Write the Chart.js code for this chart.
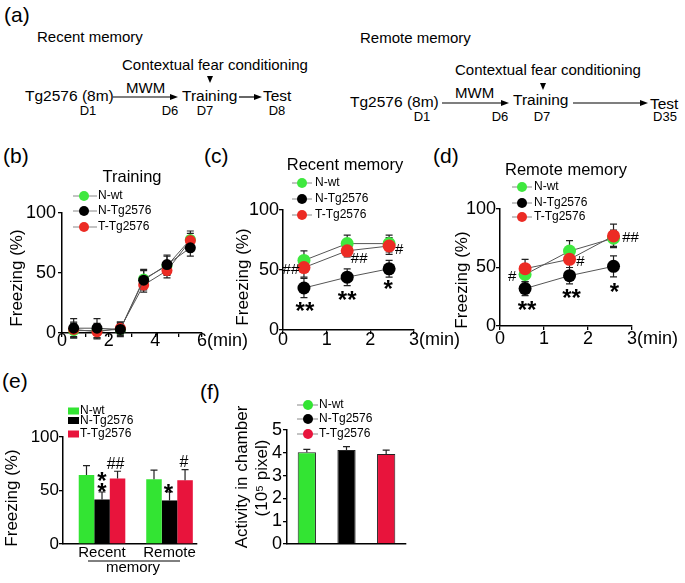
<!DOCTYPE html>
<html>
<head>
<meta charset="utf-8">
<script src="https://cdn.jsdelivr.net/npm/chart.js@4.4.1/dist/chart.umd.min.js"></script>
<style>
  body { margin: 0; background: #fff; }
  #page { position: relative; width: 685px; height: 583px; overflow: hidden; background: #fff;
          font-family: Arial, "Liberation Sans", sans-serif; color: #000; }
  .t { position: absolute; white-space: nowrap; line-height: 1; }
  .c { transform: translateX(-50%); }
  canvas { position: absolute; }
  svg { position: absolute; left: 0; top: 0; }
</style>
</head>
<body>
<div id="page">
  <!-- (a) protocol -->
  <svg width="685" height="130">
    <g stroke="#000" stroke-width="1.2">
      <line x1="113" y1="97" x2="172" y2="97"/>
      <line x1="239" y1="97" x2="256" y2="97"/>
      <line x1="442" y1="103" x2="503" y2="103"/>
      <line x1="573" y1="103" x2="642" y2="103"/>
    </g>
    <g fill="#000">
      <polygon points="170,94 178,97 170,100"/>
      <polygon points="254,94 262,97 254,100"/>
      <polygon points="501,100 509,103 501,106"/>
      <polygon points="640,100 648,103 640,106"/>
      <polygon points="207,76 213,76 210,83"/>
      <polygon points="540,83 546,83 543,90"/>
    </g>
  </svg>
  <div class="t" style="left:4px;top:4px;font-size:21px">(a)</div>
  <div class="t" style="left:37px;top:29px;font-size:15px">Recent memory</div>
  <div class="t" style="left:122px;top:57px;font-size:15px">Contextual fear conditioning</div>
  <div class="t" style="left:25px;top:88px;font-size:15.5px">Tg2576 (8m)</div>
  <div class="t" style="left:126px;top:80px;font-size:15px">MWM</div>
  <div class="t" style="left:182px;top:88px;font-size:15.5px">Training</div>
  <div class="t" style="left:263px;top:88px;font-size:15.5px">Test</div>
  <div class="t c" style="left:88px;top:104px;font-size:13px">D1</div>
  <div class="t c" style="left:170px;top:104px;font-size:13px">D6</div>
  <div class="t c" style="left:205px;top:104px;font-size:13px">D7</div>
  <div class="t c" style="left:277px;top:104px;font-size:13px">D8</div>

  <div class="t" style="left:360px;top:30px;font-size:15px">Remote memory</div>
  <div class="t" style="left:455px;top:62px;font-size:15px">Contextual fear conditioning</div>
  <div class="t" style="left:350px;top:94px;font-size:15.5px">Tg2576 (8m)</div>
  <div class="t" style="left:455px;top:85px;font-size:15px">MWM</div>
  <div class="t" style="left:513px;top:92px;font-size:15.5px">Training</div>
  <div class="t" style="left:650px;top:96px;font-size:15.5px">Test</div>
  <div class="t c" style="left:422px;top:110px;font-size:13px">D1</div>
  <div class="t c" style="left:500px;top:110px;font-size:13px">D6</div>
  <div class="t c" style="left:542px;top:110px;font-size:13px">D7</div>
  <div class="t c" style="left:665px;top:110px;font-size:13px">D35</div>

  <div class="t" style="left:3px;top:145px;font-size:21px">(b)</div>
  <div class="t" style="left:204px;top:145px;font-size:21px">(c)</div>
  <div class="t" style="left:433px;top:145px;font-size:21px">(d)</div>
  <div class="t" style="left:2px;top:370px;font-size:21px">(e)</div>
  <div class="t" style="left:200px;top:381px;font-size:21px">(f)</div>

  <canvas id="chartB" width="255" height="220" style="left:0;top:140px"></canvas>
  <canvas id="chartC" width="250" height="220" style="left:215px;top:140px"></canvas>
  <canvas id="chartD" width="240" height="220" style="left:445px;top:140px"></canvas>
  <canvas id="chartE" width="215" height="203" style="left:0;top:380px"></canvas>
  <canvas id="chartF" width="200" height="203" style="left:215px;top:380px"></canvas>
</div>

<script>
// series
const seriesNames = ['N-wt', 'N-Tg2576', 'T-Tg2576'];
const seriesColors = ['#3fe83f', '#000000', '#ec2b24'];
const barColors = ['#33e433', '#000000', '#e8143c'];

// tick labels
const freezeTicks = [0, 50, 100];
const trainTicks = [0, 1, 2, 3, 4, 5, 6];
const trainTickLabels = ['0', '', '2', '', '4', '', '6'];
const minTicks = [0, 1, 2, 3];
const minTickLabels = ['0', '1', '2', '3'];
const activityTicks = [0, 1, 2, 3, 4, 5];

// (b) training
const trainTime = [0.5, 1.5, 2.5, 3.5, 4.5, 5.5];
const trainWt = [2, 2, 3, 45, 56, 78];
const trainWtErr = [6, 6, 5, 8, 8, 7];
const trainTg = [4, 4, 3, 44, 57, 71];
const trainTgErr = [8, 8, 6, 8, 8, 7];
const trainT = [3, 1, 4, 40, 52, 77];
const trainTErr = [6, 6, 5, 6, 6, 6];

// (c) recent memory
const recentTime = [0.48, 1.47, 2.43];
const recentWt = [58, 72, 72];
const recentWtErr = [8, 7, 7];
const recentTg = [35, 44, 51];
const recentTgErr = [8, 7, 7];
const recentT = [52, 66, 70];
const recentTErr = [8, 5, 7];
const recentStars = ['**', '**', '*'];
const recentHash = ['##', '##', '#'];

// (d) remote memory
const remoteTime = [0.57, 1.58, 2.58];
const remoteWt = [44, 64, 75];
const remoteWtErr = [6, 9, 7];
const remoteTg = [32, 43, 51];
const remoteTgErr = [6, 7, 9];
const remoteT = [49, 57, 77];
const remoteTErr = [8, 7, 10];
const remoteStars = ['**', '**', '*'];
const remoteHash = ['#', '#', '##'];

// (e) freezing by memory type
const memoryGroups = ['Recent', 'Remote'];
const memWt = [64.6, 60.6];
const memWtErr = [8.7, 8.4];
const memTg = [41.6, 40.7];
const memTgErr = [7, 8];
const memT = [61.2, 59.6];
const memTErr = [6.8, 10];
const memTgStars = ['*\n*', '*'];
const memTHash = ['##', '#'];

// (f) activity in chamber
const activity = [4.02, 4.12, 3.95];
const activityErr = [0.13, 0.15, 0.17];

const FONT = 'Arial, "Liberation Sans", sans-serif';
const TICK_SIZE = 18;
Chart.defaults.font.family = FONT;
Chart.defaults.color = '#000';

function drawErrors(chart, both) {
  const ctx = chart.ctx, ys = chart.scales.y;
  ctx.save();
  ctx.strokeStyle = '#222';
  ctx.lineWidth = 1.2;
  chart.data.datasets.forEach((ds, di) => {
    if (!ds.errors) return;
    chart.getDatasetMeta(di).data.forEach((el, i) => {
      const raw = ds.data[i];
      const v = typeof raw === 'number' ? raw : raw.y;
      const top = ys.getPixelForValue(v + ds.errors[i]);
      const bot = both ? ys.getPixelForValue(v - ds.errors[i]) : el.y;
      const w = 3.5;
      ctx.beginPath();
      ctx.moveTo(el.x, top); ctx.lineTo(el.x, bot);
      ctx.moveTo(el.x - w, top); ctx.lineTo(el.x + w, top);
      if (both) { ctx.moveTo(el.x - w, bot); ctx.lineTo(el.x + w, bot); }
      ctx.stroke();
    });
  });
  ctx.restore();
}

function drawMark(chart, ctx, m) {
  const ds = chart.data.datasets[m.ds];
  const el = chart.getDatasetMeta(m.ds).data[m.i];
  let ay = el.y;
  if (m.atError) ay = chart.scales.y.getPixelForValue(ds.data[m.i].y + ds.errors[m.i]);
  const star = m.text.indexOf('*') >= 0;
  const size = m.size || (star ? 24 : 15);
  const lines = m.text.split('\n');
  ctx.font = (star ? 'bold ' : '') + size + 'px ' + FONT;
  ctx.textAlign = 'center';
  ctx.textBaseline = 'alphabetic';
  ctx.fillStyle = '#000';
  lines.forEach((line, k) => {
    const cy = ay + m.dy + (k - (lines.length - 1) / 2) * (m.gap || 0);
    ctx.fillText(line, el.x + m.dx, cy + (star ? 0.57 : 0.36) * size);
  });
}

function drawLegend(chart, ctx, L) {
  let items;
  if (L.fromLabels) {
    const ds = chart.data.datasets[0];
    items = chart.data.labels.map((t, i) => ({ text: t, color: ds.backgroundColor[i] }));
  } else {
    items = chart.data.datasets.map(ds => ({ text: ds.label, color: ds.backgroundColor }));
  }
  ctx.font = '12px ' + FONT;
  ctx.textBaseline = 'middle';
  ctx.textAlign = 'left';
  items.forEach((it, k) => {
    const y = L.ys[k];
    if (L.square) {
      ctx.fillStyle = it.color;
      ctx.fillRect(L.x0, y - 3.5, L.x1 - L.x0, 7);
    } else {
      ctx.strokeStyle = '#888';
      ctx.lineWidth = 1;
      ctx.beginPath(); ctx.moveTo(L.x0, y); ctx.lineTo(L.x1, y); ctx.stroke();
      ctx.fillStyle = it.color;
      ctx.beginPath(); ctx.arc(L.mx, y, L.r, 0, Math.PI * 2); ctx.fill();
    }
    ctx.fillStyle = '#000';
    ctx.fillText(it.text, L.tx, y);
  });
}

const decorPlugin = {
  id: 'decor',
  beforeDatasetsDraw(chart) {
    if (chart.config.type === 'line') drawErrors(chart, true);
  },
  afterDatasetsDraw(chart) {
    if (chart.config.type === 'bar') drawErrors(chart, false);
  },
  afterDraw(chart, args, o) {
    const ctx = chart.ctx;
    ctx.save();
    ctx.fillStyle = '#000';
    ctx.textBaseline = 'middle';
    if (o.title) {
      ctx.font = '16.5px ' + FONT;
      ctx.textAlign = 'center';
      ctx.fillText(o.title.text, o.title.x, o.title.y);
    }
    (o.yTitles || []).forEach(t => {
      ctx.save();
      ctx.translate(t.x, t.y);
      ctx.rotate(-Math.PI / 2);
      ctx.font = '17px ' + FONT;
      ctx.textAlign = 'center';
      ctx.textBaseline = 'middle';
      ctx.fillText(t.text, 0, 0);
      ctx.restore();
    });
    if (o.unit) {
      const xs = chart.scales.x;
      ctx.font = TICK_SIZE + 'px ' + FONT;
      ctx.textAlign = 'left';
      ctx.textBaseline = 'middle';
      ctx.fillText(o.unit.text, xs.getPixelForValue(xs.max) + 5, xs.top + 4 + o.unit.pad + TICK_SIZE / 2);
    }
    if (o.legend) drawLegend(chart, ctx, o.legend);
    (o.marks || []).forEach(m => drawMark(chart, ctx, m));
    (o.lines || []).forEach(l => {
      ctx.strokeStyle = '#000';
      ctx.lineWidth = 1;
      ctx.beginPath(); ctx.moveTo(l.x0, l.y); ctx.lineTo(l.x1, l.y); ctx.stroke();
    });
    (o.texts || []).forEach(t => {
      ctx.font = t.size + 'px ' + FONT;
      ctx.textAlign = 'center';
      ctx.textBaseline = 'middle';
      ctx.fillStyle = '#000';
      ctx.fillText(t.text, t.x, t.y);
    });
    ctx.restore();
  }
};

function axis(type, min, max, tickValues, fitSize, isY, opts) {
  const a = {
    type: type, min: min, max: max,
    border: { color: '#000', width: 1.5 },
    grid: { drawOnChartArea: false, color: '#000', lineWidth: 1.3, tickLength: 4, drawTicks: opts.drawTicks !== false },
    ticks: { color: '#000', font: { size: opts.size || TICK_SIZE, lineHeight: 1 }, padding: opts.pad || 0,
             maxRotation: 0, autoSkip: false, display: opts.showTicks !== false },
    afterFit: s => { if (isY) s.width = fitSize; else s.height = fitSize; }
  };
  if (type === 'linear') a.offset = false;
  if (tickValues) a.afterBuildTicks = s => { s.ticks = tickValues.map(v => ({ value: v })); };
  if (opts.labels) a.ticks.callback = (v, i) => opts.labels[i];
  return a;
}

function pts(xs, ys) {
  return xs.map((x, i) => ({ x: x, y: ys[i] }));
}

function lineSet(k, xs, ys, errs, r) {
  return {
    label: seriesNames[k], data: pts(xs, ys), errors: errs,
    borderColor: '#555', borderWidth: 1, backgroundColor: seriesColors[k],
    pointBackgroundColor: seriesColors[k], pointBorderWidth: 0,
    pointRadius: r, pointHoverRadius: r, clip: false, tension: 0,
    order: [2, 0, 1][k]
  };
}

function lineChart(id, w, h, area, xTicks, xLabels, xPad, yPad, sets, decor) {
  return new Chart(document.getElementById(id), {
    type: 'line',
    data: { datasets: sets },
    options: {
      responsive: false, animation: false, events: [],
      layout: { padding: { top: area.top, right: w - area.right, left: 0, bottom: 0 } },
      scales: {
        x: axis('linear', 0, xTicks[xTicks.length - 1], xTicks, h - area.bottom, false, { labels: xLabels, pad: xPad }),
        y: axis('linear', 0, 100, freezeTicks, area.left, true, { pad: yPad })
      },
      plugins: { legend: { display: false }, tooltip: { enabled: false }, decor: decor }
    },
    plugins: [decorPlugin]
  });
}

// (b)
lineChart('chartB', 255, 220, { left: 62, right: 202, top: 73, bottom: 193 }, trainTicks, trainTickLabels, -5, 2, [
  lineSet(0, trainTime, trainWt, trainWtErr, 5.5),
  lineSet(1, trainTime, trainTg, trainTgErr, 5.5),
  lineSet(2, trainTime, trainT, trainTErr, 5.5)
], {
  title: { text: 'Training', x: 132, y: 37 },
  yTitles: [{ text: 'Freezing (%)', x: 17.5, y: 138 }],
  unit: { text: '(min)', pad: -5 },
  legend: { ys: [56, 71, 87], x0: 73, x1: 97, mx: 84, r: 5, tx: 98 }
});

// (c)
lineChart('chartC', 250, 220, { left: 68, right: 199, top: 70, bottom: 190 }, minTicks, minTickLabels, -3, 0, [
  lineSet(0, recentTime, recentWt, recentWtErr, 6.5),
  lineSet(1, recentTime, recentTg, recentTgErr, 6.5),
  lineSet(2, recentTime, recentT, recentTErr, 6.5)
], {
  title: { text: 'Recent memory', x: 130, y: 25 },
  yTitles: [{ text: 'Freezing (%)', x: 28, y: 137 }],
  unit: { text: '(min)', pad: -3 },
  legend: { ys: [43, 59, 75], x0: 77, x1: 97, mx: 87, r: 5, tx: 100 },
  marks: recentStars.map((s, i) => ({ ds: 1, i: i, text: s, dx: [1, 0, -1][i], dy: [17, 17, 15][i] }))
    .concat(recentHash.map((s, i) => ({ ds: 2, i: i, text: s, dx: [-13, 12, 10][i], dy: [1, 7, 3][i] })))
});

// (d)
lineChart('chartD', 240, 220, { left: 55, right: 187, top: 69, bottom: 186 }, minTicks, minTickLabels, 0, 0, [
  lineSet(0, remoteTime, remoteWt, remoteWtErr, 6.5),
  lineSet(1, remoteTime, remoteTg, remoteTgErr, 6.5),
  lineSet(2, remoteTime, remoteT, remoteTErr, 6.5)
], {
  title: { text: 'Remote memory', x: 121, y: 30 },
  yTitles: [{ text: 'Freezing (%)', x: 17.5, y: 140 }],
  unit: { text: '(min)', pad: 0 },
  legend: { ys: [47, 63, 77], x0: 67, x1: 87, mx: 77, r: 5, tx: 89 },
  marks: remoteStars.map((s, i) => ({ ds: 1, i: i, text: s, dx: [2, 2, 1][i], dy: [16, 17, 20][i] }))
    .concat(remoteHash.map((s, i) => ({ ds: 2, i: i, text: s, dx: [-13, 11, 17][i], dy: [7, 1, 1][i] })))
});

// (e)
const memSets = [memWt, memTg, memT].map((vals, k) => ({
  label: seriesNames[k],
  data: vals.map((v, i) => ({ x: i + 1, y: v })),
  errors: [memWtErr, memTgErr, memTErr][k],
  backgroundColor: barColors[k], borderWidth: 0,
  categoryPercentage: 0.69, barPercentage: 1
}));
new Chart(document.getElementById('chartE'), {
  type: 'bar',
  data: { datasets: memSets },
  options: {
    responsive: false, animation: false, events: [],
    layout: { padding: { top: 57, right: 18, left: 0, bottom: 0 } },
    scales: {
      x: axis('linear', 0.422, 2.407, memoryGroups.map((g, i) => i + 1), 39, false,
        { labels: memoryGroups, size: 15, pad: 1.5, drawTicks: false }),
      y: axis('linear', 0, 100, freezeTicks, 63, true, { size: 17, pad: 0 })
    },
    plugins: {
      legend: { display: false }, tooltip: { enabled: false },
      decor: {
        yTitles: [{ text: 'Freezing (%)', x: 12, y: 118 }],
        legend: { square: true, ys: [31, 40.5, 54], x0: 68, x1: 79, tx: 80 },
        marks: memTgStars.map((s, i) => ({ ds: 1, i: i, text: s, atError: true, dx: [0, -1][i], dy: [-11.5, -5][i], gap: 11 }))
          .concat(memTHash.map((s, i) => ({ ds: 2, i: i, text: s, atError: true, size: 16, dx: [-2, -1][i], dy: [-8, -8][i] }))),
        lines: [{ x0: 88, x1: 180, y: 181 }],
        texts: [{ text: 'memory', x: 133, y: 188, size: 15 }]
      }
    }
  },
  plugins: [decorPlugin]
});

// (f)
new Chart(document.getElementById('chartF'), {
  type: 'bar',
  data: {
    labels: seriesNames,
    datasets: [{ data: activity, errors: activityErr, backgroundColor: barColors,
                 borderColor: '#222', borderWidth: 1, categoryPercentage: 1, barPercentage: 0.46 }]
  },
  options: {
    responsive: false, animation: false, events: [],
    layout: { padding: { top: 50, right: 9, left: 0, bottom: 0 } },
    scales: {
      x: axis('category', undefined, undefined, null, 39, false, { drawTicks: false, showTicks: false }),
      y: axis('linear', 0, 5, activityTicks, 72, true, { pad: 1 })
    },
    plugins: {
      legend: { display: false }, tooltip: { enabled: false },
      decor: {
        yTitles: [{ text: 'Activity in chamber', x: 27, y: 97 }, { text: '(10\u2075 pixel)', x: 47, y: 98 }],
        legend: { fromLabels: true, ys: [25, 39, 54], x0: 82, x1: 103, mx: 93, r: 5, tx: 104 }
      }
    }
  },
  plugins: [decorPlugin]
});
</script>
</body>
</html>
